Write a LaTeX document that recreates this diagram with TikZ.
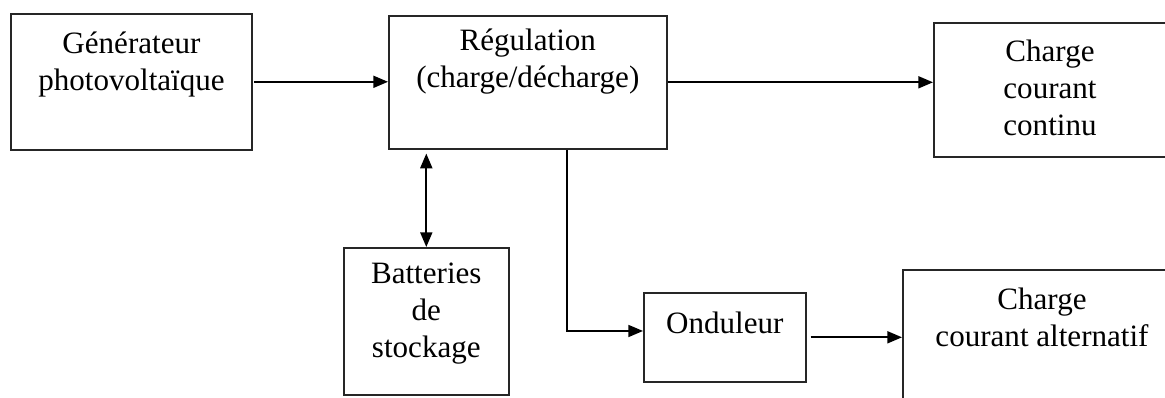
\documentclass[tikz,border=0pt]{standalone}
\usepackage{fontspec}
\setmainfont{Liberation Serif}
\usetikzlibrary{arrows.meta,calc}
\begin{document}
\begin{tikzpicture}[x=0.75pt,y=-0.75pt,
  box/.style={draw=black!85, line width=1.2pt, inner sep=0pt, anchor=north west},
  txt/.style={align=center, inner sep=0pt, font=\fontsize{23.3}{27.8}\selectfont},
  arr/.style={line width=1.3pt, draw=black, -{Triangle[length=11pt,width=9pt]}},
  darr/.style={line width=1.3pt, draw=black, {Triangle[length=11pt,width=9pt]}-{Triangle[length=11pt,width=9pt]}}]
\useasboundingbox (0,0) rectangle (1165,398);
\clip (0,0) rectangle (1165,398);
% boxes
\node[box, minimum width=181pt, minimum height=102pt] (gen) at (10,13) {};
\node[box, minimum width=208.5pt, minimum height=99.75pt] (reg) at (388,15) {};
\node[box, minimum width=176.25pt, minimum height=100.5pt] (cont) at (933,22) {};
\node[box, minimum width=123.75pt, minimum height=110.25pt] (batt) at (343,247) {};
\node[box, minimum width=121.5pt, minimum height=66.75pt] (ond) at (643,292) {};
\node[box, minimum width=210pt, minimum height=120pt] (alt) at (902,269) {};
% texts
\node[txt] (gent) at ($(gen.north)+(0,51.5)$) {Générateur\\photovoltaïque};
\node[txt] (regt) at ($(reg.north)+(0,46.5)$) {Régulation\\(charge/décharge)};
\node[txt] (contt) at ($(cont.north west)+(117,66)$) {Charge\\courant\\continu};
\node[txt] (battt) at ($(batt.north)+(0,67)$) {Batteries\\de\\stockage};
\node[txt] (ondt) at ($(ond.north)+(0,31)$) {Onduleur};
\node[txt] (altt) at ($(alt.north west)+(140,48.5)$) {Charge\\courant alternatif};
% connectors
\coordinate (rk) at (567,148);
\coordinate (ondin) at (643,331);
\draw[arr, shorten <=1pt] (gen.east) -- (gen.east -| reg.west);
\draw[arr] (reg.east) -- (reg.east -| cont.west);
\draw[darr, shorten <=3pt] (batt.north |- reg.south) -- (batt.north);
\draw[arr] (reg.south -| rk) |- (ond.west |- ondin);
\draw[arr, shorten <=3pt] (ond.east) -- (ond.east -| alt.west);
\end{tikzpicture}
\end{document}
